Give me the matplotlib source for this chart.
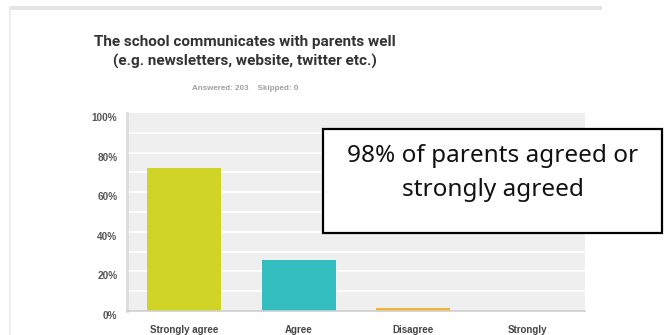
import matplotlib
matplotlib.use("Agg")
import matplotlib.pyplot as plt
from matplotlib.patches import Rectangle

# survey responses (n = 203)
CATEGORIES = ["Strongly agree", "Agree", "Disagree", "Strongly\ndisagree"]
PERCENT = [72.41, 25.62, 1.48, 0.0]
BAR_COLORS = ["#cfd427", "#33bdbf", "#f5b335", "#e05a4f"]
Y_TICKS = [0, 20, 40, 60, 80, 100]
Y_LABELS = ["0%", "20%", "40%", "60%", "80%", "100%"]

TITLE = "The school communicates with parents well\n(e.g. newsletters, website, twitter etc.)"
SUBTITLE = "Answered: 203    Skipped: 0"
CALLOUT = "98% of parents agreed or\nstrongly agreed"

W, H = 666, 335
DPI = 100


def main():
    fig = plt.figure(figsize=(W / DPI, H / DPI), dpi=DPI, facecolor="white")

    # page frame: grey strip along the top, thin line down the left
    fig.add_artist(Rectangle((10 / W, 1 - 10 / H), 592 / W, 4 / H,
                             transform=fig.transFigure, color="#e4e4e4", lw=0))
    fig.add_artist(Rectangle((9 / W, 0), 2 / W, 1 - 6 / H,
                             transform=fig.transFigure, color="#ececec", lw=0))

    # plot area in pixels: x 127..585, y 113..311
    left, right, top, bottom = 127, 585, 113, 311
    ax = fig.add_axes([left / W, 1 - bottom / H, (right - left) / W, (bottom - top) / H])
    ax.set_facecolor("#efefef")
    x = list(range(len(CATEGORIES)))
    ax.bar(x, PERCENT, width=0.65, color=BAR_COLORS, zorder=3)
    ax.set_xlim(-0.5, len(CATEGORIES) - 0.5)
    ax.set_ylim(0, 100)

    for v in range(10, 100, 10):
        ax.axhline(v, color="white", lw=1.2, zorder=1)

    for s in ["top", "right"]:
        ax.spines[s].set_visible(False)
    ax.spines["left"].set_color("#dcdcdc")
    ax.spines["left"].set_linewidth(2)
    ax.spines["bottom"].set_color("#cfcfcf")
    ax.spines["bottom"].set_linewidth(1.2)
    ax.spines["bottom"].set_zorder(4)

    ax.set_yticks(Y_TICKS)
    ax.set_yticklabels(Y_LABELS, fontsize=7.2, color="#555555",
                       family="Liberation Sans", fontweight="bold")
    ax.tick_params(axis="y", length=0, pad=7)
    for lbl in ax.get_yticklabels():
        lbl.set_va("top")
    ax.set_xticks(x)
    ax.set_xticklabels(CATEGORIES, fontsize=7, color="#444444",
                       family="Liberation Sans", fontweight="bold", va="top")
    ax.tick_params(axis="x", length=0, pad=10)

    fig.text(245 / W, 1 - 52 / H, TITLE, ha="center", va="center",
             fontsize=11, fontweight="bold", color="#333333",
             family="Roboto", linespacing=1.5)
    fig.text(245 / W, 1 - 88 / H, SUBTITLE, ha="center", va="center",
             fontsize=5.8, fontweight="bold", color="#a0a0a0",
             family="Liberation Sans")

    # callout box
    bx0, by0, bx1, by1 = 323, 129, 662, 233
    fig.add_artist(Rectangle((bx0 / W, 1 - by1 / H), (bx1 - bx0) / W, (by1 - by0) / H,
                             transform=fig.transFigure, facecolor="white",
                             edgecolor="black", lw=1.6, zorder=10))
    fig.text((bx0 + bx1) / 2 / W, 1 - 173 / H, CALLOUT, ha="center", va="center",
             fontsize=17.5, color="#111111", family="Noto Sans",
             linespacing=1.5, zorder=11)

    fig.savefig("out.png", dpi=DPI, facecolor="white")
    plt.close(fig)


if __name__ == "__main__":
    main()
